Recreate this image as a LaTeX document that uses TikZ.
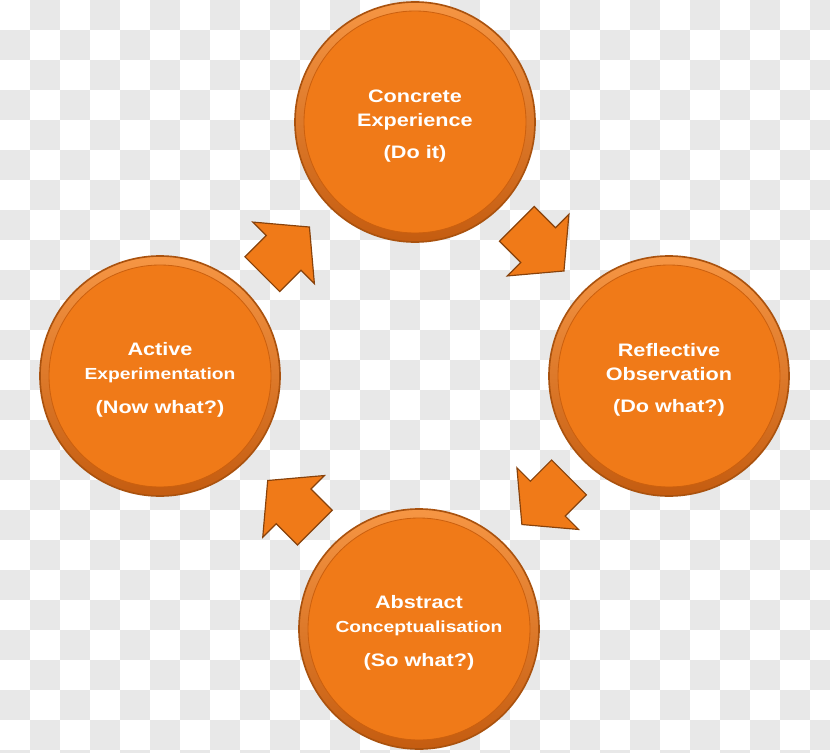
\documentclass[tikz,border=0pt]{standalone}
\usepackage{fontspec}
\newfontfamily\stagefont[FakeStretch=1.2]{Liberation Sans}
\usetikzlibrary{shapes.arrows, calc}
\definecolor{corange}{RGB}{240,122,24}
\definecolor{crim}{RGB}{170,82,14}
\definecolor{cline}{RGB}{204,96,14}
\definecolor{clight}{RGB}{246,150,68}
\definecolor{cdark}{RGB}{196,92,16}
\definecolor{cgrid}{RGB}{232,232,232}
\newcommand\longword[1]{{\fontsize{13.7}{20.5}\selectfont #1}}

\begin{document}
\begin{tikzpicture}[
    x=0.03cm, y=-0.03cm,
    stage/.style={circle, draw=crim, line width=1.4pt, fill=corange, minimum size=7.2cm, inner sep=0pt,
                  text=white, align=center, font=\stagefont\bfseries\fontsize{15.4}{20.5}\selectfont,
                  path picture={
                      \shade[top color=clight, bottom color=cdark, even odd rule]
                          (path picture bounding box.center) circle (3.62cm)
                          (path picture bounding box.center) circle (3.33cm);
                      \draw[cline, line width=0.7pt] (path picture bounding box.center) circle (3.33cm);}},
    flow/.style={single arrow, draw=crim!80!black, line width=1pt, fill=corange, inner xsep=0pt, inner ysep=0.72cm,
                 minimum height=2cm, single arrow head extend=0.57cm, single arrow tip angle=100}
]
    \useasboundingbox (0,0) rectangle (830,753);
    \clip (0,0) rectangle (830,753);
    %
    % transparent background
    \fill[white] (0,0) rectangle (830,753);
    \foreach \i in {0,...,27}{
        \foreach \j in {0,...,25}{
            \ifodd\numexpr\i+\j\relax \fill[cgrid] (\i*30,\j*30) rectangle ++(30,30); \fi
        }
    }
    %
    % stages of the cycle
    \node[stage] (concrete) at (415,122) {\rule{0pt}{0.62cm}Concrete\\Experience\\[0.25cm](Do it)};
    \node[stage] (reflective) at (669,376) {\rule{0pt}{0.62cm}Reflective\\Observation\\[0.25cm](Do what?)};
    \node[stage] (abstract) at (419,629) {\rule{0pt}{0.62cm}Abstract\\\longword{Conceptualisation}\\[0.3cm](So what?)};
    \node[stage] (active) at (160,376) {\rule{0pt}{0.62cm}Active\\\longword{Experimentation}\\[0.3cm](Now what?)};
    %
    % arrows between stages
    \node[flow, rotate=-45] (toreflective) at ($(concrete)!0.465!(reflective)$) {};
    \node[flow, rotate=-135] (toabstract) at ($(reflective)!0.465!(abstract)$) {};
    \node[flow, rotate=135] (toactive) at ($(abstract)!0.465!(active)$) {};
    \node[flow, rotate=45] (toconcrete) at ($(active)!0.465!(concrete)$) {};
\end{tikzpicture}
\end{document}
